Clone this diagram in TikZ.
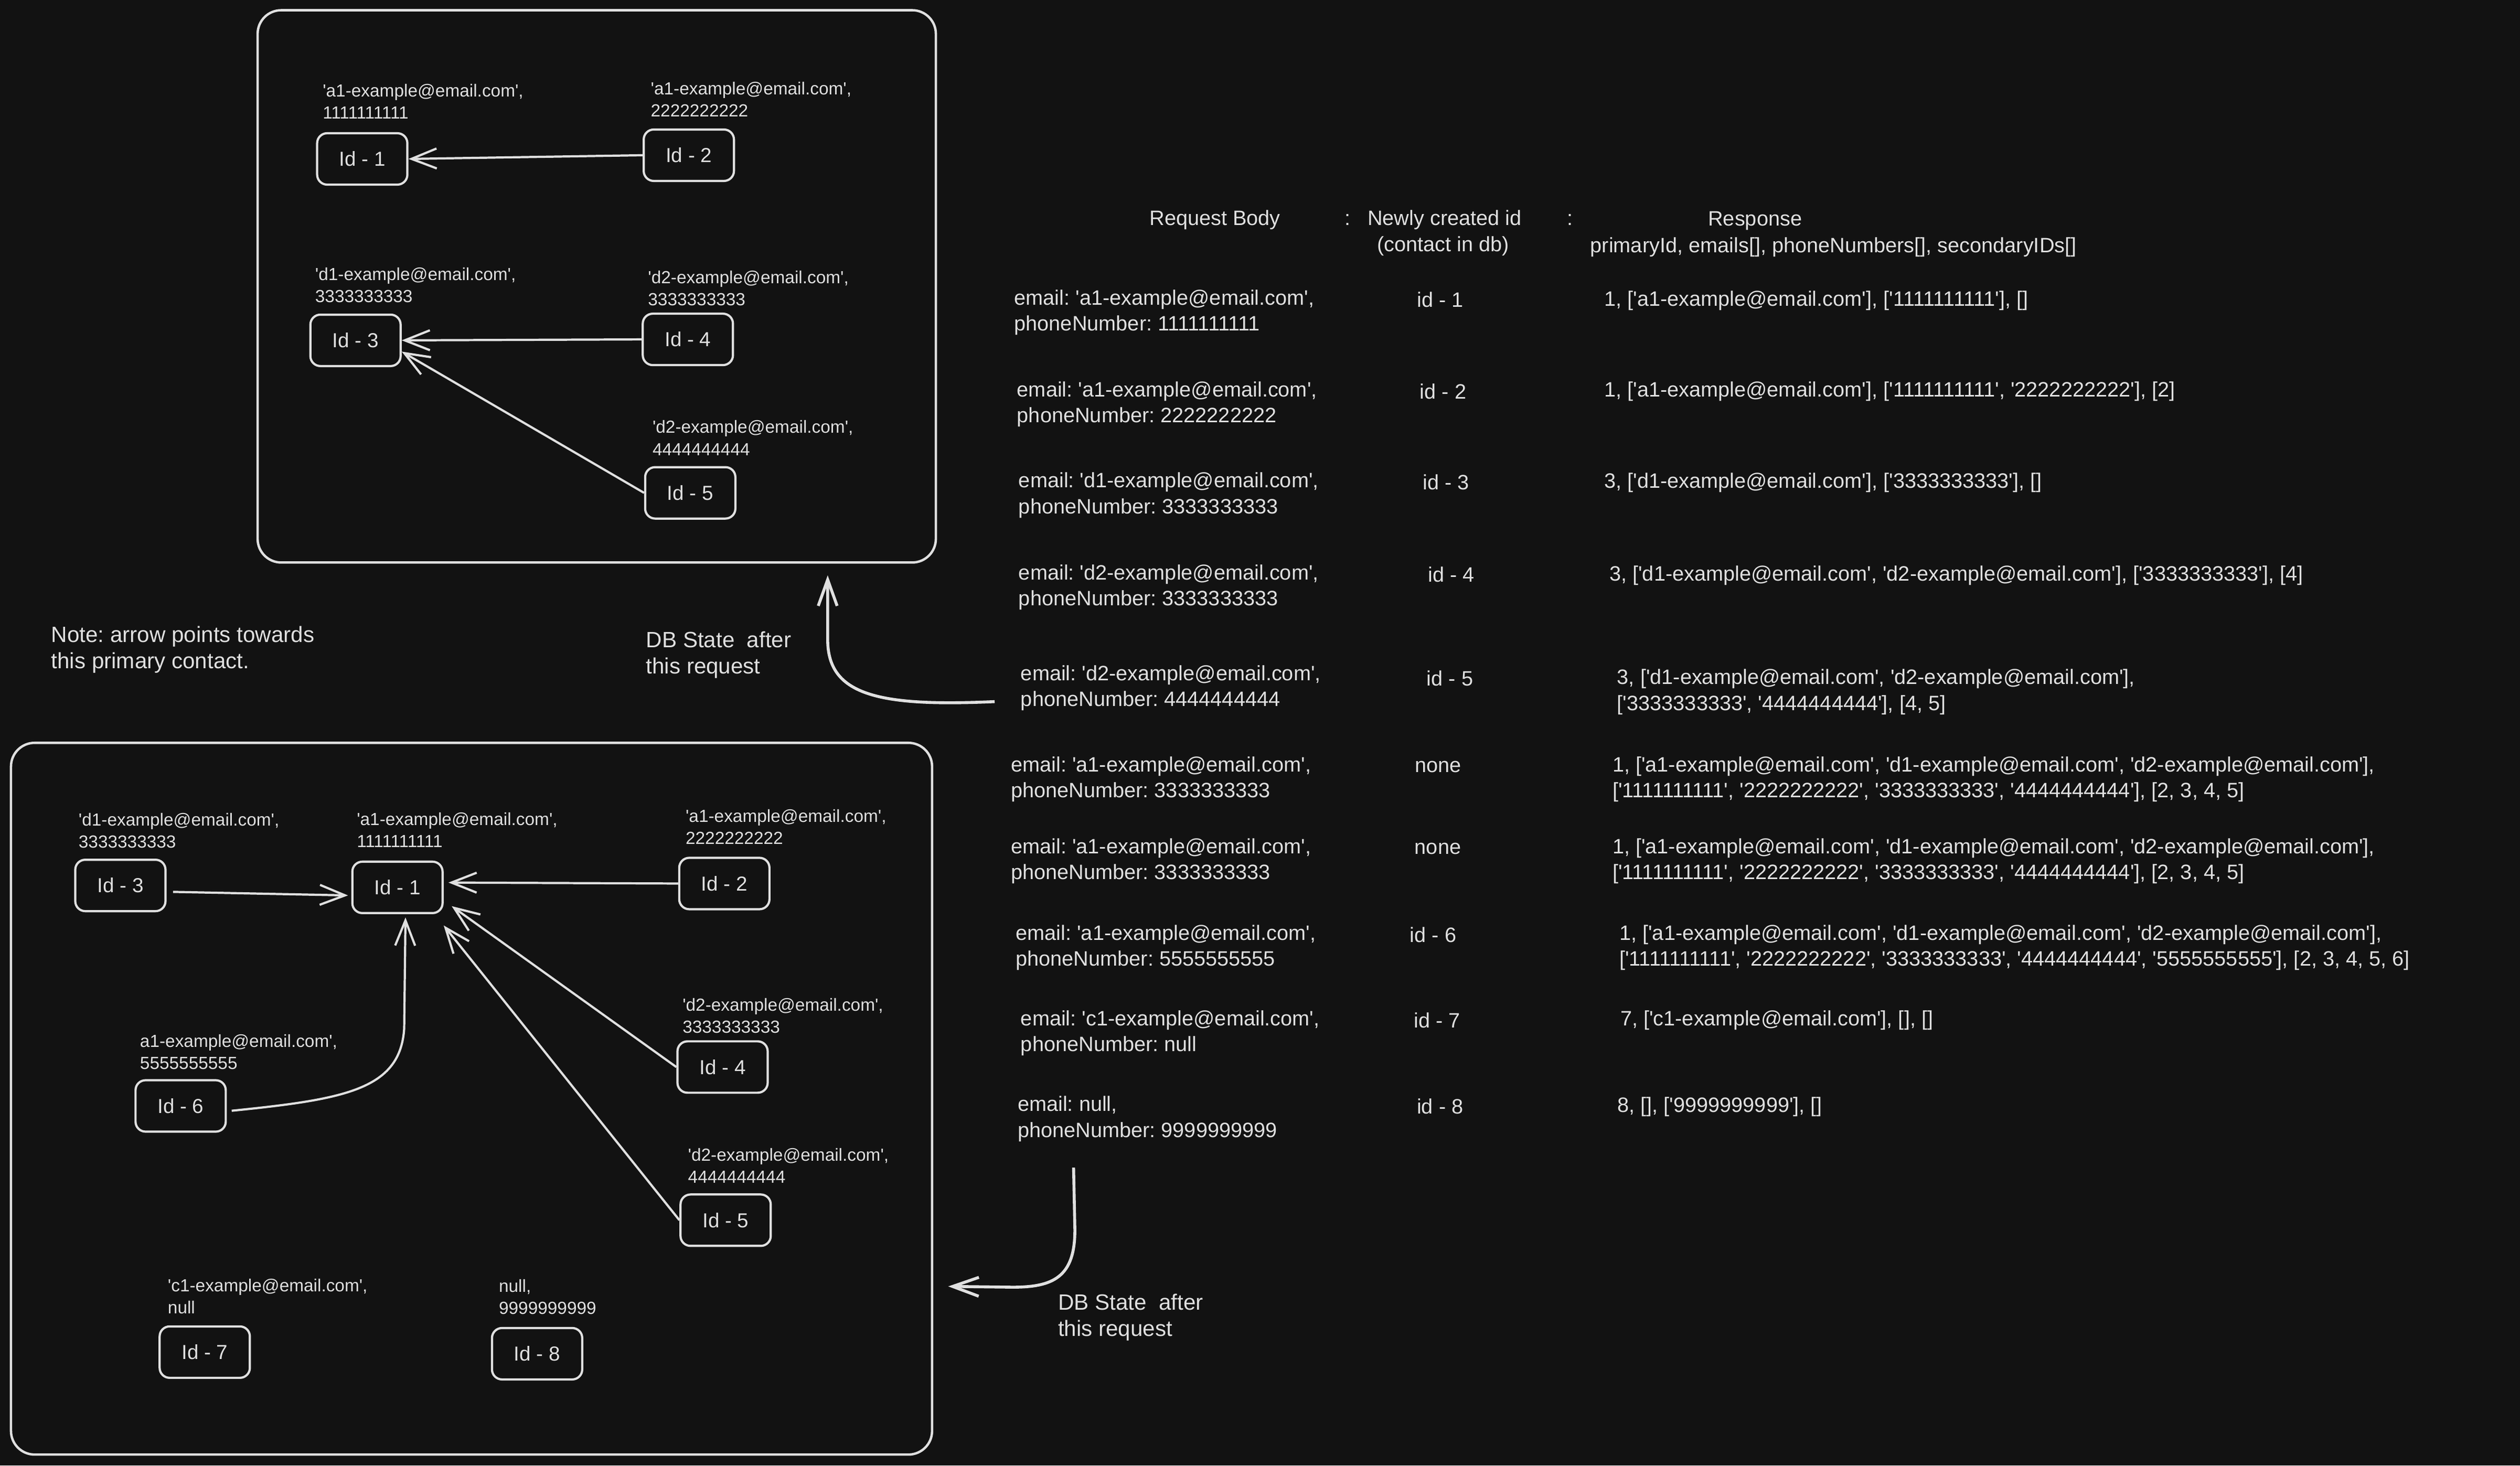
\documentclass[tikz,border=0pt]{standalone}
\usepackage{fontspec}
\newfontfamily\hand{Liberation Sans}
\usetikzlibrary{arrows.meta,calc}
\definecolor{bg}{HTML}{121212}
\definecolor{fg}{HTML}{E0E0E0}
\frenchspacing
\begin{document}
\begin{tikzpicture}[x=0.030638cm,y=-0.030638cm,
  frame/.style={draw=fg, line width=1.3pt, rounded corners=0.45cm, inner sep=0},
  idbox/.style={draw=fg, line width=1.2pt, rounded corners=0.19cm, minimum width=1.72cm, minimum height=0.98cm, text=fg, font=\hand\fontsize{11}{13}\selectfont, inner sep=0},
  lbl/.style={anchor=west, align=left, inner sep=0, text=fg, font=\hand\fontsize{9.5}{12}\selectfont},
  tbl/.style={anchor=west, align=left, inner sep=0, text=fg, font=\hand\fontsize{11.3}{14}\selectfont},
  note/.style={anchor=west, align=left, inner sep=0, text=fg, font=\hand\fontsize{12}{14.3}\selectfont},
  arr/.style={draw=fg, line width=1.2pt, -{Straight Barb[length=4.8mm,width=3.8mm]}},
  bigarr/.style={draw=fg, line width=1.6pt, -{Straight Barb[length=5mm,width=3.6mm]}}
]
\fill[bg] (0,0) rectangle (1568,912);
\useasboundingbox (0,0) rectangle (1568,912);

% ---------- top frame ----------
\node[frame, minimum width=12.93cm, minimum height=10.53cm] (topframe) at (371.3,178.2) {};
\node[idbox] (t1) at (225.4,98.9) {Id - 1};
\node[idbox] (t2) at (428.6,96.6) {Id - 2};
\node[idbox] (t3) at (221.2,211.8) {Id - 3};
\node[idbox] (t4) at (428,211.2) {Id - 4};
\node[idbox] (t5) at (429.5,306.7) {Id - 5};
\node[lbl] (t1l) at (200.6,63) {'a1-example@email.com',\\1111111111};
\node[lbl] (t2l) at (404.7,61.9) {'a1-example@email.com',\\2222222222};
\node[lbl] (t3l) at (195.9,177.5) {'d1-example@email.com',\\3333333333};
\node[lbl] (t4l) at (403,179.4) {'d2-example@email.com',\\3333333333};
\node[lbl] (t5l) at (405.8,272.5) {'d2-example@email.com',\\4444444444};
\draw[arr] (t2.west) -- (t1.east);
\draw[arr] (t4.west) -- (t3.east);
\draw[arr] (t5.west) -- ($(t3.east)+(0,7)$);

% ---------- bottom frame ----------
\node[frame, minimum width=17.56cm, minimum height=13.57cm] (botframe) at (293.4,683.7) {};
\node[idbox] (b1) at (247.3,552.2) {Id - 1};
\node[idbox] (b2) at (450.7,549.8) {Id - 2};
\node[idbox] (b3) at (74.9,551) {Id - 3};
\node[idbox] (b4) at (449.6,664) {Id - 4};
\node[idbox] (b5) at (451.5,759.3) {Id - 5};
\node[idbox] (b6) at (112.4,688.2) {Id - 6};
\node[idbox] (b7) at (127.4,841.4) {Id - 7};
\node[idbox] (b8) at (334.2,842.4) {Id - 8};
\node[lbl] (b3l) at (48.7,516.9) {'d1-example@email.com',\\3333333333};
\node[lbl] (b1l) at (221.8,516.5) {'a1-example@email.com',\\1111111111};
\node[lbl] (b2l) at (426.4,514.6) {'a1-example@email.com',\\2222222222};
\node[lbl] (b4l) at (424.5,632.2) {'d2-example@email.com',\\3333333333};
\node[lbl] (b6l) at (86.9,654.5) {a1-example@email.com',\\5555555555};
\node[lbl] (b5l) at (427.9,725.4) {'d2-example@email.com',\\4444444444};
\node[lbl] (b7l) at (104.2,806.7) {'c1-example@email.com',\\null};
\node[lbl] (b8l) at (310.2,807) {null,\\9999999999};
\draw[arr] ($(b3.east)+(4,4)$) -- ($(b1.west)+(-2,5)$);
\draw[arr] (b2.west) -- ($(b1.east)+(3,-3)$);
\draw[arr] (b4.west) -- ($(b1.south east)+(5,-5)$);
\draw[arr] (b5.west) -- ($(b1.south east)+(0,7)$);
\draw[arr] ($(b6.east)+(3,3)$) .. controls (215,684) and (249,678) .. (251.5,640) -- ($(b1.south)+(5,2)$);

% ---------- notes ----------
\node[note] (notel) at (31.7,404.2) {Note: arrow points towards\\this primary contact.};
\node[note] (dbtop) at (401.8,407.5) {DB State\ \ after\\this request};
\node[note] (dbbot) at (658.1,819.8) {DB State\ \ after\\this request};

% ---------- table header ----------
\node[tbl] (hreq) at (715,136.7) {Request Body};
\node[tbl] (hc1) at (836.5,136.7) {:};
\node[tbl] (hnew) at (850.7,136.7) {Newly created id};
\node[tbl] (hcdb) at (856.7,153) {(contact in db)};
\node[tbl] (hc2) at (975,136.7) {:};
\node[tbl] (hresp) at (1062.6,137.4) {Response};
\node[tbl] (hfld) at (989.3,153.7) {primaryId, emails[], phoneNumbers[], secondaryIDs[]};

% ---------- table rows ----------
\node[tbl] (r1q) at (630.9,194.4) {email: 'a1-example@email.com',\\phoneNumber: 1111111111};
\node[tbl] (r1i) at (881.6,186.4) {id - 1};
\node[tbl] (r1r) at (998,187) {1, ['a1-example@email.com'], ['1111111111'], []};

\node[tbl] (r2q) at (632.6,251.5) {email: 'a1-example@email.com',\\phoneNumber: 2222222222};
\node[tbl] (r2i) at (883.3,243.5) {id - 2};
\node[tbl] (r2r) at (998,243.6) {1, ['a1-example@email.com'], ['1111111111', '2222222222'], [2]};

\node[tbl] (r3q) at (633.6,308.2) {email: 'd1-example@email.com',\\phoneNumber: 3333333333};
\node[tbl] (r3i) at (885,300.2) {id - 3};
\node[tbl] (r3r) at (998,300.2) {3, ['d1-example@email.com'], ['3333333333'], []};

\node[tbl] (r4q) at (633.6,365.4) {email: 'd2-example@email.com',\\phoneNumber: 3333333333};
\node[tbl] (r4i) at (888.3,357.4) {id - 4};
\node[tbl] (r4r) at (1001.2,358) {3, ['d1-example@email.com', 'd2-example@email.com'], ['3333333333'], [4]};

\node[tbl] (r5q) at (634.9,428.1) {email: 'd2-example@email.com',\\phoneNumber: 4444444444};
\node[tbl] (r5i) at (887.5,422.2) {id - 5};
\node[tbl] (r5r) at (1006,430.6) {3, ['d1-example@email.com', 'd2-example@email.com'],\\{}['3333333333', '4444444444'], [4, 5]};

\node[tbl] (r6q) at (628.8,485) {email: 'a1-example@email.com',\\phoneNumber: 3333333333};
\node[tbl] (r6i) at (880.2,477.2) {none};
\node[tbl] (r6r) at (1003.1,485) {1, ['a1-example@email.com', 'd1-example@email.com', 'd2-example@email.com'],\\{}['1111111111', '2222222222', '3333333333', '4444444444'], [2, 3, 4, 5]};

\node[tbl] (r7q) at (628.8,535.9) {email: 'a1-example@email.com',\\phoneNumber: 3333333333};
\node[tbl] (r7i) at (880,528) {none};
\node[tbl] (r7r) at (1003.1,535.9) {1, ['a1-example@email.com', 'd1-example@email.com', 'd2-example@email.com'],\\{}['1111111111', '2222222222', '3333333333', '4444444444'], [2, 3, 4, 5]};

\node[tbl] (r8q) at (631.8,589.7) {email: 'a1-example@email.com',\\phoneNumber: 5555555555};
\node[tbl] (r8i) at (877.1,581.8) {id - 6};
\node[tbl] (r8r) at (1007.4,589.7) {1, ['a1-example@email.com', 'd1-example@email.com', 'd2-example@email.com'],\\{}['1111111111', '2222222222', '3333333333', '4444444444', '5555555555'], [2, 3, 4, 5, 6]};

\node[tbl] (r9q) at (634.9,642.9) {email: 'c1-example@email.com',\\phoneNumber: null};
\node[tbl] (r9i) at (879.6,634.8) {id - 7};
\node[tbl] (r9r) at (1008,634.8) {7, ['c1-example@email.com'], [], []};

\node[tbl] (r10q) at (633,696.3) {email: null,\\phoneNumber: 9999999999};
\node[tbl] (r10i) at (881.4,688.6) {id - 8};
\node[tbl] (r10r) at (1006.2,688.6) {8, [], ['9999999999'], []};

% ---------- big arrows ----------
\coordinate (topin) at (515,358);
\coordinate (botin) at (590,800.5);
\draw[bigarr] ($(r5q.west)+(-16,8.5)$) .. controls (545,440) and (515,432) .. (515,398) -- (topin);
\draw[bigarr] ($(r10q.south west)+(35,16)$) -- (668.8,765) .. controls (669,795) and (655,801) .. (630,801) -- (botin);
\end{tikzpicture}
\end{document}
